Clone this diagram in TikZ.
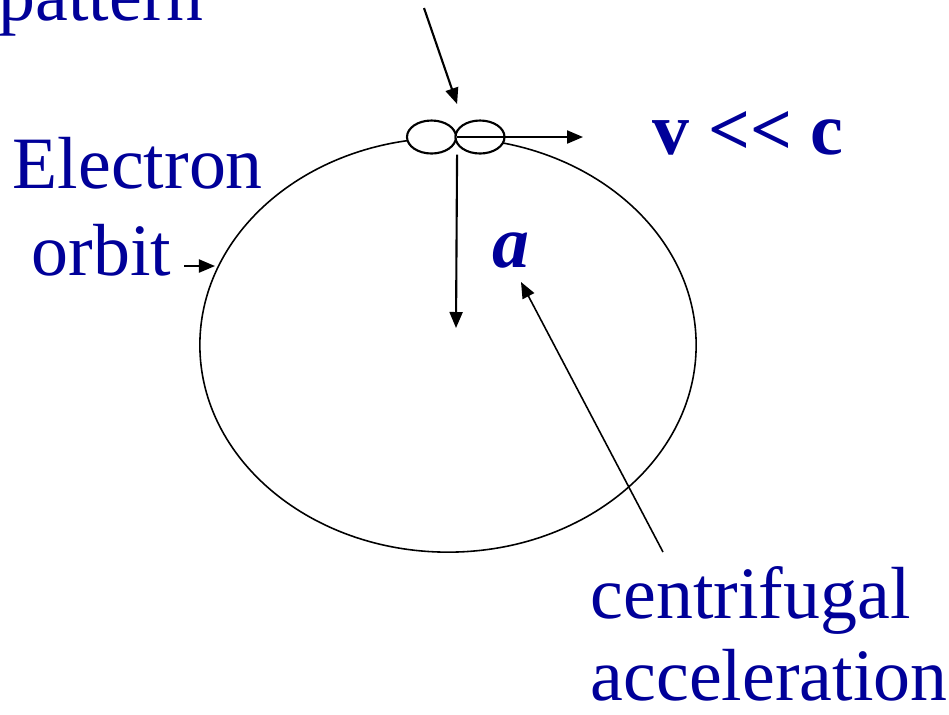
\documentclass[tikz,border=0pt]{standalone}
\usepackage{fontspec}
\setmainfont{Liberation Serif}
\usetikzlibrary{arrows.meta,shapes.geometric}
\definecolor{inkblue}{RGB}{0,0,153}

\begin{document}
\begin{tikzpicture}[x=0.01cm, y=-0.01cm,
    txt/.style={text=inkblue, font=\fontsize{21}{25}\selectfont, inner sep=0pt, anchor=base west},
    arr/.style={-{Triangle[length=0.16cm, width=0.13cm]}, line width=0.6pt},
    orbitline/.style={draw, ellipse, line width=0.45pt, inner sep=0pt},
    lobe/.style={draw, ellipse, fill=white, line width=0.6pt, inner sep=0pt, minimum width=0.49cm, minimum height=0.33cm},
  ]
    \useasboundingbox (0,0) rectangle (949,714);
    % orbit and the two lobes
    \node[orbitline, minimum width=4.96cm, minimum height=4.14cm] (orbit) at (448,345) {};
    \node[lobe] (lobeL) at (431.5,137) {};
    \node[lobe] (lobeR) at (480,137) {};
    % labels
    \node[txt] (patt) at (-2,20) {pattern};
    \node[txt] (elec) at (12,188) {Electron};
    \node[txt] (orb) at (31,275) {orbit};
    \node[txt, font=\fontsize{21}{25}\selectfont\bfseries] (vc) at (652,154) {v {<}{<} c};
    \node[txt, font=\fontsize{21}{25}\selectfont\bfseries\itshape] (acc) at (492,267) {a};
    \node[txt] (cen) at (590,618) {centrifugal};
    \node[txt] (accel) at (590,700) {acceleration};
    % arrow ends
    \coordinate (pstart) at (424,8);
    \coordinate (vend) at (583,137);
    \coordinate (aend) at (456,328);
    \coordinate (ostart) at (184,266);
    \coordinate (oend) at (215,266);
    \coordinate (cstart) at (663,552);
    \coordinate (cend) at (521,282);
    % arrows
    \draw[arr] (pstart) -- (lobeL.east |- 0,104);
    \draw[arr] (lobeL.east) -- (vend);
    \draw[arr] (lobeL.east |- lobeL.south) -- (aend);
    \draw[arr] (ostart) -- (oend);
    \draw[arr, line width=0.45pt] (cstart) -- (cend);
\end{tikzpicture}
\end{document}
